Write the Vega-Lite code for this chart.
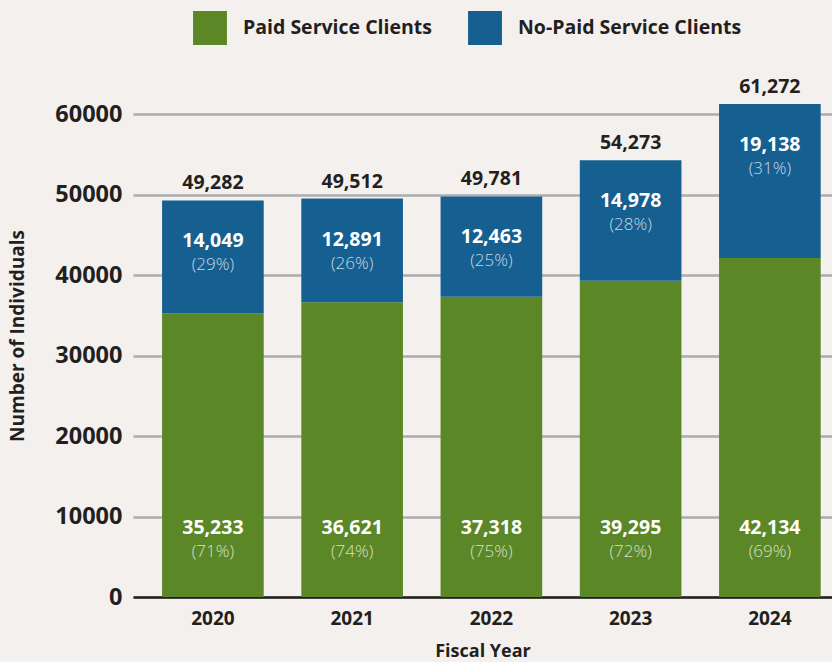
{
  "$schema": "https://vega.github.io/schema/vega-lite/v6.json",
  "autosize": "none",
  "width": 699,
  "height": 523,
  "padding": {"top": 74, "left": 133, "right": 0, "bottom": 65},
  "background": "#f4f0ed",
  "config": {
    "view": {"stroke": null},
    "font": "Open Sans",
    "text": {"font": "Open Sans"}
  },
  "data": {
    "values": [
      {"Fiscal Year": "2020", "Paid Service Clients": 35233, "No-Paid Service Clients": 14049, "Total": 49282, "Paid Pct": "(71%)", "No-Paid Pct": "(29%)"},
      {"Fiscal Year": "2021", "Paid Service Clients": 36621, "No-Paid Service Clients": 12891, "Total": 49512, "Paid Pct": "(74%)", "No-Paid Pct": "(26%)"},
      {"Fiscal Year": "2022", "Paid Service Clients": 37318, "No-Paid Service Clients": 12463, "Total": 49781, "Paid Pct": "(75%)", "No-Paid Pct": "(25%)"},
      {"Fiscal Year": "2023", "Paid Service Clients": 39295, "No-Paid Service Clients": 14978, "Total": 54273, "Paid Pct": "(72%)", "No-Paid Pct": "(28%)"},
      {"Fiscal Year": "2024", "Paid Service Clients": 42134, "No-Paid Service Clients": 19138, "Total": 61272, "Paid Pct": "(69%)", "No-Paid Pct": "(31%)"}
    ]
  },
  "encoding": {
    "x": {
      "field": "Fiscal Year",
      "type": "nominal",
      "scale": {"paddingInner": 0.27, "paddingOuter": 0.145, "align": 0.72},
      "axis": {
        "labelAngle": 0,
        "labelFont": "Open Sans",
        "labelFontSize": 19,
        "labelFontWeight": "bold",
        "labelColor": "#231f20",
        "labelPadding": 12,
        "ticks": false,
        "domainColor": "#231f20",
        "domainWidth": 2.5,
        "title": "Fiscal Year",
        "titleFont": "Open Sans",
        "titleFontSize": 18,
        "titleFontWeight": "bold",
        "titleColor": "#231f20",
        "titlePadding": 14
      }
    }
  },
  "layer": [
    {
      "transform": [{"fold": ["Paid Service Clients", "No-Paid Service Clients"], "as": ["Series", "Clients"]}],
      "mark": {"type": "bar"},
      "encoding": {
        "y": {
          "field": "Clients",
          "type": "quantitative",
          "stack": "zero",
          "scale": {"domain": [0, 65000], "nice": false},
          "axis": {
            "values": [0, 10000, 20000, 30000, 40000, 50000, 60000],
            "format": "d",
            "domain": false,
            "ticks": false,
            "gridColor": "#abadb0",
            "gridWidth": 2.5,
            "labelFont": "Open Sans",
            "labelFontSize": 23.5,
            "labelFontWeight": "bold",
            "labelColor": "#231f20",
            "labelPadding": 11,
            "title": "Number of Individuals",
            "titleFont": "Open Sans",
            "titleFontSize": 19,
            "titleFontWeight": "bold",
            "titleColor": "#231f20",
            "titlePadding": 27
          }
        },
        "color": {
          "field": "Series",
          "type": "nominal",
          "sort": ["Paid Service Clients", "No-Paid Service Clients"],
          "scale": {"domain": ["Paid Service Clients", "No-Paid Service Clients"], "range": ["#5b8727", "#156091"]},
          "legend": {
            "title": null,
            "orient": "none",
            "direction": "horizontal",
            "legendX": 60,
            "legendY": -63,
            "symbolType": "square",
            "symbolSize": 1150,
            "symbolStrokeWidth": 0,
            "symbolOpacity": 1,
            "labelFont": "Open Sans",
            "labelFontSize": 19.5,
            "labelFontWeight": "bold",
            "labelColor": "#231f20",
            "labelOffset": 16,
            "columnPadding": 36,
            "labelLimit": 400
          }
        }
      }
    },
    {
      "mark": {"type": "text", "dy": -17, "fontSize": 19.5, "fontWeight": "bold", "color": "#231f20", "font": "Open Sans"},
      "encoding": {
        "y": {"field": "Total", "type": "quantitative"},
        "text": {"field": "Total", "type": "quantitative", "format": ","}
      }
    },
    {
      "mark": {"type": "text", "dy": 41, "fontSize": 19.5, "fontWeight": "bold", "color": "#ffffff", "font": "Open Sans"},
      "encoding": {
        "y": {"field": "Total", "type": "quantitative"},
        "text": {"field": "No-Paid Service Clients", "type": "quantitative", "format": ","}
      }
    },
    {
      "mark": {"type": "text", "dy": 65, "fontSize": 17, "fontWeight": 300, "color": "#c9d7e4", "font": "Open Sans"},
      "encoding": {
        "y": {"field": "Total", "type": "quantitative"},
        "text": {"field": "No-Paid Pct", "type": "nominal"}
      }
    },
    {
      "mark": {"type": "text", "dy": -69, "fontSize": 19.5, "fontWeight": "bold", "color": "#ffffff", "font": "Open Sans"},
      "encoding": {
        "y": {"datum": 0, "type": "quantitative"},
        "text": {"field": "Paid Service Clients", "type": "quantitative", "format": ","}
      }
    },
    {
      "mark": {"type": "text", "dy": -45, "fontSize": 17, "fontWeight": 300, "color": "#d6e0c9", "font": "Open Sans"},
      "encoding": {
        "y": {"datum": 0, "type": "quantitative"},
        "text": {"field": "Paid Pct", "type": "nominal"}
      }
    }
  ]
}
